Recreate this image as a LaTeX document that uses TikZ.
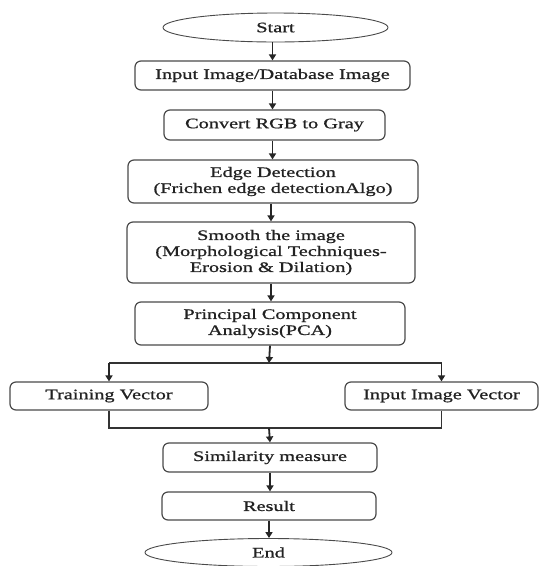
\documentclass[tikz,border=0pt]{standalone}
\usepackage{fontspec}
\setmainfont{Liberation Serif}[FakeStretch=1.4,FakeBold=0.9]
\usetikzlibrary{shapes.geometric,arrows.meta}
\definecolor{linec}{HTML}{4A4A4A}
\definecolor{textc}{HTML}{222222}
\tikzset{
  procbox/.style={draw=linec, line width=1.2pt, rounded corners=6pt, inner sep=0pt,
    align=center, text=textc, font=\fontsize{14.5}{16}\selectfont},
  termbox/.style={draw=linec, line width=0.9pt, ellipse, inner sep=0pt,
    text=textc, font=\fontsize{14.5}{16}\selectfont},
  flow/.style={draw=black!85, line width=1.8pt, -{Triangle[length=6pt,width=7pt]}},
  plain/.style={draw=black!80, line width=1.3pt}
}
\begin{document}
\begin{tikzpicture}[x=1pt,y=-1pt]
\clip (0,0) rectangle (540,566);
\fill[white] (0,0) rectangle (540,566);
\node[termbox, minimum width=225pt, minimum height=29pt] (start) at (275.5,27.5) {Start};
\node[procbox, minimum width=275pt, minimum height=29pt] (input) at (272.5,75.5) {Input Image/Database Image};
\node[procbox, minimum width=221pt, minimum height=30pt] (gray) at (274.5,125) {Convert RGB to Gray};
\node[procbox, minimum width=290pt, minimum height=43pt] (edge) at (273,181.5) {Edge Detection\\(Frichen edge detectionAlgo)};
\node[procbox, minimum width=288pt, minimum height=61pt] (smooth) at (271,252.5) {Smooth the image\\(Morphological Techniques-\\Erosion \& Dilation)};
\node[procbox, minimum width=270pt, minimum height=43pt] (pca) at (270,323.5) {Principal Component\\Analysis(PCA)};
\node[procbox, minimum width=198pt, minimum height=28pt] (train) at (109,396) {Training Vector};
\node[procbox, minimum width=193pt, minimum height=28pt] (vec) at (441.5,396) {Input Image Vector};
\node[procbox, minimum width=214pt, minimum height=29pt] (sim) at (270,457.5) {Similarity measure};
\node[procbox, minimum width=214pt, minimum height=28pt] (res) at (269,506) {Result};
\node[termbox, minimum width=247pt, minimum height=28pt] (end) at (268.5,552.5) {End};
\coordinate (split) at (269,363);
\coordinate (join) at (269,428);
\draw[flow] (input.north |- start.south) -- (input.north);
\draw[flow] (input.south) -- (input.south |- gray.north);
\draw[flow] (input.south |- gray.south) -- (input.south |- edge.north);
\draw[flow] (smooth.north |- edge.south) -- (smooth.north);
\draw[flow] (smooth.south) -- (smooth.south |- pca.north);
\draw[flow] (pca.south) -- (split);
\draw[plain] (train.north |- split) -- (vec.north |- split);
\draw[flow] (train.north |- split) -- (train.north);
\draw[flow] (vec.north |- split) -- (vec.north);
\draw[plain] (train.south) |- (join);
\draw[plain] (vec.south) |- (join);
\draw[flow] (join) -- (sim.north);
\draw[flow] (sim.south) -- (sim.south |- res.north);
\draw[flow] (res.south) -- (res.south |- end.north);
\end{tikzpicture}
\end{document}
